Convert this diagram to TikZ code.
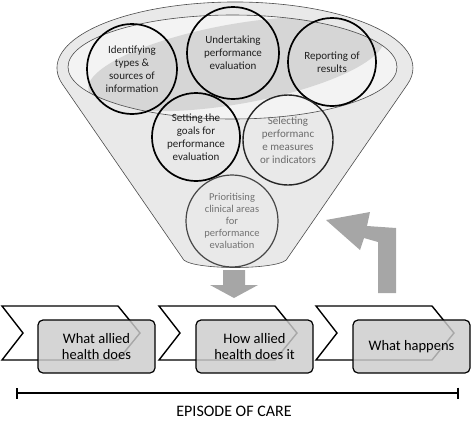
\documentclass[tikz,border=0pt]{standalone}
\usepackage{fontspec}
\setmainfont{Carlito}
\usetikzlibrary{arrows.meta}
\definecolor{arrowgray}{HTML}{A6A6A6}
\definecolor{funnelfill}{HTML}{E9E9E9}
\definecolor{innerfill}{HTML}{F3F3F3}
\definecolor{blobfill}{HTML}{D6D6D6}
\begin{document}
\begin{tikzpicture}[x=1pt,y=1pt,
  circ/.style={circle, draw=black, line width=1.7pt, minimum size=#1, inner sep=0pt,
    align=center, text=black!88, font=\fontsize{11}{13}\selectfont},
  thinline/.style={draw=black!70, line width=0.6pt},
  chev/.style={draw=black, line width=1.4pt, fill=white, line join=miter},
  stagebox/.style={draw=black, line width=1.2pt, rounded corners=5pt, fill=black!20,
    fill opacity=0.82, text opacity=1, minimum width=117, minimum height=53, inner sep=0pt,
    align=center, font=\fontsize{14.5}{15.5}\selectfont},
  blockarrow/.style={fill=arrowgray, draw=none}]
\useasboundingbox (0,0) rectangle (472,-421);

% funnel
\path[thinline, fill=funnelfill] (183.8,-260) -- (62.6,-84.4)
  arc[start angle=194.4, end angle=-14.4, x radius=178, y radius=66]
  -- (286.2,-260) .. controls (275,-270) and (195,-270) .. cycle;
\fill[innerfill] (232.5,-67) ellipse [x radius=164.5, y radius=52];
\begin{scope}
  \clip (232.5,-67) ellipse [x radius=164.5, y radius=52];
  \fill[blobfill, rotate around={10:(236,-64)}] (236,-64) ellipse [x radius=150, y radius=40];
\end{scope}
\draw[thinline] (232.5,-67) ellipse [x radius=164.5, y radius=52];

% circles
\node[circ=90] (c1) at (132,-69) {Identifying\\types \&\\sources of\\information};
\node[circ=92] (c2) at (233,-53) {Undertaking\\performance\\evaluation};
\node[circ=88] (c3) at (332,-62) {Reporting of\\results};
\node[circ=88] (c4) at (196,-137) {Setting the\\goals for\\performance\\evaluation};
\node[circ=90, draw=black!85, line width=1.4pt, text=black!58] (c5) at (288,-140)
  {Selecting\\performanc\\e measures\\or indicators};
\node[circ=92, draw=black!72, line width=1.2pt, text=black!55,
  font=\fontsize{10.5}{11.8}\selectfont] (c6) at (232,-221)
  {Prioritising\\clinical areas\\for\\performance\\evaluation};

% block arrows
\path[blockarrow] (223,-270) -- (245,-270) -- (245,-285) -- (258,-285) -- (234,-298)
  -- (210,-285) -- (223,-285) -- cycle;
\path[blockarrow] (378,-293) -- (396,-293) -- (396,-228) -- (367,-226) -- (370,-212)
  -- (326,-220) -- (360,-250) -- (364,-238) -- (378,-242) -- cycle;

% chevrons
\foreach \dx in {0,157,314}{
  \draw[chev, xshift=\dx] (2,-306) -- (118,-306) -- (140,-333) -- (118,-360)
    -- (2,-360) -- (23,-333) -- cycle;
}
\node[stagebox] (r1) at (96.5,-346.5) {What allied\\health does};
\node[stagebox] (r2) at (254.5,-346.5) {How allied\\health does it};
\node[stagebox] (r3) at (411.5,-346.5) {What happens};

% episode line
\coordinate (e1) at (16,-393);
\coordinate (e2) at (459,-393);
\draw[line width=1.8pt, {Bar[width=11pt]}-{Bar[width=11pt]}] (e1) -- (e2);
\node[font=\fontsize{16}{18}\selectfont, anchor=base, inner sep=0pt] (ep) at (234,-416) {EPISODE OF CARE};
\end{tikzpicture}
\end{document}
